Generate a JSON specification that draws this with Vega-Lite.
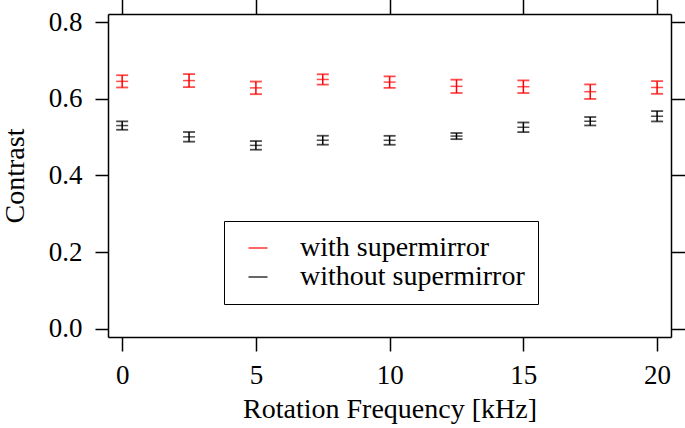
{
  "$schema": "https://vega.github.io/schema/vega-lite/v6.json",
  "width": 563,
  "height": 323,
  "autosize": {"type": "none"},
  "padding": {"left": 108, "top": 14, "right": 14, "bottom": 91},
  "background": "white",
  "config": {
    "font": "Liberation Serif",
    "view": {"stroke": null},
    "axis": {
      "grid": false,
      "domainColor": "black",
      "domainWidth": 1.5,
      "tickColor": "black",
      "tickWidth": 1.5,
      "labelColor": "black",
      "titleColor": "black",
      "labelFont": "Liberation Serif",
      "titleFont": "Liberation Serif",
      "titleFontWeight": "normal",
      "labelFontSize": 27,
      "titleFontSize": 28
    },
    "legend": {"labelFont": "Liberation Serif"}
  },
  "data": {
    "values": [
      {"f": 0, "series": "with supermirror", "v": 0.646, "lo": 0.630, "hi": 0.662},
      {"f": 2.5, "series": "with supermirror", "v": 0.648, "lo": 0.631, "hi": 0.665},
      {"f": 5, "series": "with supermirror", "v": 0.629, "lo": 0.6125, "hi": 0.6455},
      {"f": 7.5, "series": "with supermirror", "v": 0.651, "lo": 0.6375, "hi": 0.6645},
      {"f": 10, "series": "with supermirror", "v": 0.644, "lo": 0.629, "hi": 0.659},
      {"f": 12.5, "series": "with supermirror", "v": 0.633, "lo": 0.6156, "hi": 0.6504},
      {"f": 15, "series": "with supermirror", "v": 0.632, "lo": 0.6155, "hi": 0.6485},
      {"f": 17.5, "series": "with supermirror", "v": 0.619, "lo": 0.600, "hi": 0.638},
      {"f": 20, "series": "with supermirror", "v": 0.630, "lo": 0.6134, "hi": 0.6466},
      {"f": 0, "series": "without supermirror", "v": 0.5305, "lo": 0.5195, "hi": 0.5415},
      {"f": 2.5, "series": "without supermirror", "v": 0.501, "lo": 0.4884, "hi": 0.5136},
      {"f": 5, "series": "without supermirror", "v": 0.4787, "lo": 0.4674, "hi": 0.49},
      {"f": 7.5, "series": "without supermirror", "v": 0.4922, "lo": 0.4805, "hi": 0.5039},
      {"f": 10, "series": "without supermirror", "v": 0.492, "lo": 0.4803, "hi": 0.5037},
      {"f": 12.5, "series": "without supermirror", "v": 0.503, "lo": 0.495, "hi": 0.511},
      {"f": 15, "series": "without supermirror", "v": 0.526, "lo": 0.5134, "hi": 0.5386},
      {"f": 17.5, "series": "without supermirror", "v": 0.5418, "lo": 0.5308, "hi": 0.5528},
      {"f": 20, "series": "without supermirror", "v": 0.5548, "lo": 0.5413, "hi": 0.5683}
    ]
  },
  "resolve": {"axis": {"x": "independent", "y": "independent"}},
  "layer": [
    {
      "mark": {"type": "rule", "strokeWidth": 1.5},
      "encoding": {
        "x": {
          "field": "f", "type": "quantitative",
          "scale": {"domain": [-0.53, 20.52], "nice": false, "zero": false},
          "axis": {"orient": "bottom", "values": [0, 5, 10, 15, 20], "tickSize": 14, "labelPadding": 11, "title": "Rotation Frequency [kHz]", "titlePadding": 7}
        },
        "y": {
          "field": "lo", "type": "quantitative",
          "scale": {"domain": [-0.022, 0.822], "nice": false, "zero": false},
          "axis": {"orient": "left", "values": [0, 0.2, 0.4, 0.6, 0.8], "format": ".1f", "tickSize": 13, "labelPadding": 13, "title": "Contrast", "titlePadding": 19}
        },
        "y2": {"field": "hi"},
        "color": {
          "field": "series", "type": "nominal",
          "scale": {"domain": ["with supermirror", "without supermirror"], "range": ["#ff0000", "#000000"]},
          "legend": {
            "orient": "none", "legendX": 116, "legendY": 207, "title": null,
            "symbolType": "stroke", "symbolSize": 361, "symbolStrokeWidth": 1.2, "symbolOffset": 7,
            "labelOffset": 28, "padding": 13, "strokeColor": "black",
            "labelFontSize": 28, "rowPadding": 1, "labelColor": "black", "labelLimit": 400
          }
        }
      }
    },
    {
      "mark": {"type": "tick", "orient": "horizontal", "size": 12, "thickness": 1.8},
      "encoding": {
        "x": {"field": "f", "type": "quantitative", "axis": null},
        "y": {"field": "lo", "type": "quantitative", "axis": null},
        "color": {"field": "series", "type": "nominal", "legend": null}
      }
    },
    {
      "mark": {"type": "tick", "orient": "horizontal", "size": 12, "thickness": 1.8},
      "encoding": {
        "x": {"field": "f", "type": "quantitative", "axis": null},
        "y": {"field": "hi", "type": "quantitative", "axis": null},
        "color": {"field": "series", "type": "nominal", "legend": null}
      }
    },
    {
      "mark": {"type": "tick", "orient": "horizontal", "size": 12, "thickness": 1.5},
      "encoding": {
        "x": {
          "field": "f", "type": "quantitative",
          "axis": {"orient": "top", "values": [0, 5, 10, 15, 20], "tickSize": 16, "labels": false, "title": null}
        },
        "y": {
          "field": "v", "type": "quantitative",
          "axis": {"orient": "right", "values": [0, 0.2, 0.4, 0.6, 0.8], "tickSize": 16, "labels": false, "title": null}
        },
        "color": {"field": "series", "type": "nominal", "legend": null}
      }
    }
  ]
}
